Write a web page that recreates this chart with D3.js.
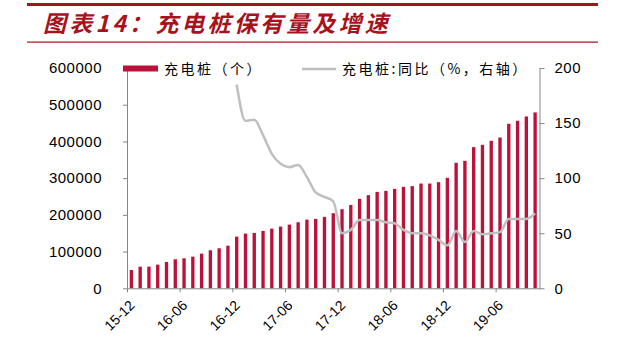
<!DOCTYPE html>
<html>
<head>
<meta charset="utf-8">
<script src="https://cdn.jsdelivr.net/npm/d3@7"></script>
<style>
  body { margin: 0; background: #fff; }
  svg { display: block; }
  .axis path, .axis line { stroke: #868686; }
  .axis text { font-family: "Liberation Sans", Arial, sans-serif; fill: #000; }
</style>
</head>
<body>
<svg id="chart" width="640" height="351"></svg>
<script>
// 月份（15-12 ～ 19-10）
const months = [
  "15-12", "16-01", "16-02", "16-03", "16-04", "16-05", "16-06", "16-07", "16-08", "16-09", "16-10", "16-11",
  "16-12", "17-01", "17-02", "17-03", "17-04", "17-05", "17-06", "17-07", "17-08", "17-09", "17-10", "17-11",
  "17-12", "18-01", "18-02", "18-03", "18-04", "18-05", "18-06", "18-07", "18-08", "18-09", "18-10", "18-11",
  "18-12", "19-01", "19-02", "19-03", "19-04", "19-05", "19-06", "19-07", "19-08", "19-09", "19-10"
];
// 充电桩保有量（个）
const piles = [
  49900, 59000, 59000, 64400, 71700, 79000, 81800, 86200, 94400, 103600, 109000, 116200,
  140700, 149000, 150800, 156300, 162500, 168000, 173500, 180000, 187000, 189000, 194500, 204500,
  215400, 227000, 243600, 253600, 262600, 265400, 270800, 276300, 278200, 285300, 285300, 289000,
  300800, 341700, 347200, 384500, 390800, 401700, 410700, 448000, 456300, 468000, 479000
];
// 同比（%），从16-12开始
const yoyStart = 12;
const yoy = [
  185, 152, 153, 139, 122, 113, 110, 112, 101, 87, 83, 79,
  50, 53, 62, 62, 62, 60, 59, 53, 50, 50, 48, 44,
  39, 52, 42, 52, 49, 50, 51, 63, 63, 63, 68
];
const leftTicks = [0, 100000, 200000, 300000, 400000, 500000, 600000];
const rightTicks = [0, 50, 100, 150, 200];
const labelIdx = [0, 6, 12, 18, 24, 30, 36, 42];

const svg = d3.select("#chart");
const plotLeft = 127, plotRight = 539.5, plotTop = 68, plotBottom = 288.3;
const red = "#a8121c";

// 标题
svg.append("rect").attr("x", 27).attr("y", 3).attr("width", 571).attr("height", 3).attr("fill", red);
svg.append("rect").attr("x", 27).attr("y", 41.5).attr("width", 571).attr("height", 1.2).attr("fill", red);
svg.append("text")
  .attr("x", 43).attr("y", 32)
  .attr("font-family", "'Noto Sans CJK SC', sans-serif")
  .attr("font-size", 23).attr("font-weight", "bold").attr("font-style", "italic")
  .attr("letter-spacing", 3.2)
  .attr("fill", red)
  .text("图表14：充电桩保有量及增速");

// 比例尺
const x = d3.scaleBand().domain(months).range([plotLeft, plotRight]).paddingInner(0.62).paddingOuter(0.31);
const xi = d3.scaleLinear().domain([0, months.length]).range([plotLeft, plotRight]);
const yL = d3.scaleLinear().domain([0, 600000]).range([plotBottom, plotTop]);
const yR = d3.scaleLinear().domain([0, 200]).range([plotBottom, plotTop]);

// 柱子
svg.append("g")
  .selectAll("rect")
  .data(piles)
  .enter()
  .append("rect")
  .attr("x", (d, i) => x(months[i]))
  .attr("width", x.bandwidth())
  .attr("y", (d) => yL(d))
  .attr("height", (d) => yL(0) - yL(d))
  .attr("fill", "#bc1239");

// 折线
const line = d3.line()
  .x((d, i) => x(months[i + yoyStart]) + x.bandwidth() / 2)
  .y((d) => yR(d))
  .curve(d3.curveMonotoneX);
svg.append("path")
  .datum(yoy)
  .attr("d", line)
  .attr("fill", "none")
  .attr("stroke", "#bfbfbf")
  .attr("stroke-width", 2.5);

// 坐标轴
const gL = svg.append("g").attr("class", "axis")
  .attr("transform", `translate(${plotLeft},0)`)
  .call(d3.axisLeft(yL).tickValues(leftTicks).tickFormat(d3.format("d")).tickSize(4).tickSizeOuter(0).tickPadding(21));
gL.selectAll("text").attr("font-size", 15).attr("letter-spacing", 0.5);

const gR = svg.append("g").attr("class", "axis")
  .attr("transform", `translate(${plotRight},0)`)
  .call(d3.axisRight(yR).tickValues(rightTicks).tickSize(5).tickSizeOuter(0).tickPadding(10));
gR.selectAll("text").attr("font-size", 15).attr("letter-spacing", 0.5);

const gB = svg.append("g").attr("class", "axis")
  .attr("transform", `translate(0,${plotBottom})`)
  .call(d3.axisBottom(xi).tickValues(labelIdx).tickFormat((i) => months[i]).tickSize(4).tickSizeOuter(0));
gB.selectAll("text")
  .attr("font-size", 14)
  .attr("text-anchor", "end")
  .attr("dy", 0)
  .attr("x", 0).attr("y", 0)
  .attr("transform", "translate(8,18) rotate(-45)");
svg.selectAll(".axis .domain").attr("stroke", "#868686");

// 图例
const lg = svg.append("g").attr("font-family", "'Noto Sans CJK SC', sans-serif").attr("font-size", 14).attr("fill", "#000");
lg.append("rect").attr("x", 123).attr("y", 65.5).attr("width", 35).attr("height", 6).attr("fill", "#bc1239");
lg.append("text").attr("x", 164).attr("y", 74).attr("letter-spacing", 2.5).text("充电桩（个）");
lg.append("line").attr("x1", 302).attr("x2", 336).attr("y1", 69).attr("y2", 69)
  .attr("stroke", "#bfbfbf").attr("stroke-width", 2.5);
lg.append("text").attr("x", 342).attr("y", 74).attr("letter-spacing", 2.5).text("充电桩:同比（%，右轴）");
</script>
</body>
</html>
